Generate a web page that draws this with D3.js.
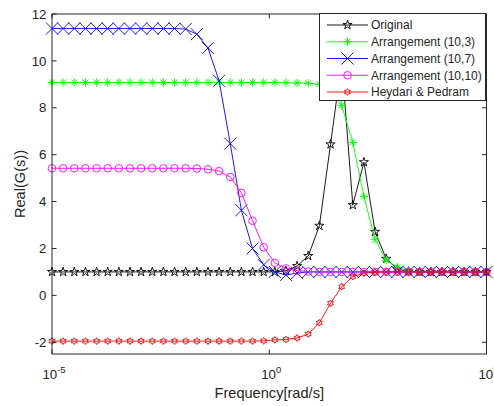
<!DOCTYPE html>
<html>
<head>
<meta charset="utf-8">
<script src="https://cdn.jsdelivr.net/npm/d3@7"></script>
<style>
  body { margin: 0; background: #fff; }
  svg text { font-family: Arial, "Liberation Sans", sans-serif; fill: #262626; }
</style>
</head>
<body>
<svg id="chart" width="494" height="406"></svg>
<script>
// log10 of the frequency samples (40 points from 1e-5 to 1e5)
const logFreq = [-5, -4.744, -4.487, -4.231, -3.974, -3.718, -3.462, -3.205, -2.949, -2.692,
  -2.436, -2.179, -1.923, -1.667, -1.410, -1.154, -0.897, -0.641, -0.385, -0.128,
  0.128, 0.385, 0.641, 0.897, 1.154, 1.410, 1.667, 1.923, 2.179, 2.436,
  2.692, 2.949, 3.205, 3.462, 3.718, 3.974, 4.231, 4.487, 4.744, 5];

const original = [1, 1, 1, 1, 1, 1, 1, 1, 1, 1,
  1, 1, 1, 1, 1, 1, 1, 1, 1, 1,
  1, 1.05, 1.25, 1.68, 2.97, 6.44, 9.96, 3.85, 5.68, 2.71,
  1.56, 1.12, 1.02, 1, 1, 1, 1, 1, 1, 1];

const arr10_3 = [9.08, 9.08, 9.08, 9.08, 9.08, 9.08, 9.08, 9.08, 9.08, 9.08,
  9.08, 9.08, 9.08, 9.08, 9.08, 9.08, 9.08, 9.08, 9.08, 9.08,
  9.08, 9.07, 9.06, 9.05, 9.0, 8.85, 8.1, 6.52, 4.22, 2.38,
  1.5, 1.2, 1.05, 1, 1, 1, 1, 1, 1, 1];

const arr10_7 = [11.38, 11.38, 11.38, 11.38, 11.38, 11.38, 11.38, 11.38, 11.38, 11.38,
  11.38, 11.38, 11.36, 11.14, 10.55, 9.15, 6.47, 3.63, 2.0, 1.3,
  1.0, 0.87, 0.95, 1, 1, 1, 1, 1, 1, 1,
  1, 1, 1, 1, 1, 1, 1, 1, 1, 1];

const arr10_10 = [5.42, 5.42, 5.42, 5.42, 5.42, 5.42, 5.42, 5.42, 5.42, 5.42,
  5.42, 5.42, 5.42, 5.41, 5.38, 5.3, 5.05, 4.37, 3.18, 2.05,
  1.39, 1.15, 1.05, 1.02, 1, 1, 1, 1, 1, 1,
  1, 1, 1, 1, 1, 1, 1, 1, 1, 1];

const heydari = [-1.95, -1.95, -1.95, -1.95, -1.95, -1.95, -1.95, -1.95, -1.95, -1.95,
  -1.95, -1.95, -1.95, -1.95, -1.95, -1.95, -1.95, -1.95, -1.95, -1.94,
  -1.9, -1.88, -1.82, -1.65, -1.17, -0.34, 0.37, 0.8, 0.95, 0.99,
  1, 1, 1, 1, 1, 1, 1, 1, 1, 1];

const seriesNames = ["Original", "Arrangement (10,3)", "Arrangement (10,7)", "Arrangement (10,10)", "Heydari & Pedram"];
const seriesValues = [original, arr10_3, arr10_7, arr10_10, heydari];
const seriesColors = ["#000000", "#00ff00", "#0000ff", "#ff00ff", "#ff0000"];
const seriesMarkers = ["pentagram", "asterisk", "x", "circle", "hexagram"];

const xTickExp = [-5, 0, 5];
const yTicks = [-2, 0, 2, 4, 6, 8, 10, 12];

// ---- layout ----
const svg = d3.select("#chart");
const axL = 52, axR = 486.5, axT = 14, axB = 354;
const axisColor = "#262626";

const x = d3.scaleLog().domain([1e-5, 1e5]).range([axL, axR]);
const y = d3.scaleLinear().domain([-2.5, 12]).range([axB, axT]);

function markerPath(kind){
    let p = [];
    if (kind == "pentagram"){
        let R = 4.8, r = R * 0.382;
        for (let i = 0; i < 10; i++){
            let a = -Math.PI/2 + i * Math.PI/5;
            let rr = i % 2 == 0 ? R : r;
            p.push([rr*Math.cos(a), rr*Math.sin(a)]);
        }
        return "M" + p.map(d => d[0].toFixed(2) + "," + d[1].toFixed(2)).join("L") + "Z";
    }
    if (kind == "hexagram"){
        let R = 3.4, r = R * 0.577;
        for (let i = 0; i < 12; i++){
            let a = -Math.PI/2 + i * Math.PI/6;
            let rr = i % 2 == 0 ? R : r;
            p.push([rr*Math.cos(a), rr*Math.sin(a)]);
        }
        return "M" + p.map(d => d[0].toFixed(2) + "," + d[1].toFixed(2)).join("L") + "Z";
    }
    if (kind == "asterisk"){
        let r = 4.2, a = r * 0.707;
        return `M${-r},0L${r},0M0,${-r}L0,${r}M${-a},${-a}L${a},${a}M${-a},${a}L${a},${-a}`;
    }
    if (kind == "x"){
        let s = 6;
        return `M${-s},${-s}L${s},${s}M${-s},${s}L${s},${-s}`;
    }
    // circle
    let c = 3.8;
    return `M${c},0A${c},${c} 0 1,1 ${-c},0A${c},${c} 0 1,1 ${c},0Z`;
}

// ---- series ----
let line = d3.line()
    .x((d, i) => x(Math.pow(10, logFreq[i])))
    .y(d => y(d));

seriesValues.forEach((vals, s) => {
    svg.append("path")
        .attr("d", line(vals))
        .attr("fill", "none")
        .attr("stroke", seriesColors[s])
        .attr("stroke-width", 0.9);

    svg.append("g").selectAll("path")
        .data(vals)
        .join("path")
        .attr("transform", (d, i) => `translate(${x(Math.pow(10, logFreq[i]))},${y(d)})`)
        .attr("d", markerPath(seriesMarkers[s]))
        .attr("fill", "none")
        .attr("stroke", seriesColors[s])
        .attr("stroke-width", 0.9);
});

// ---- ticks and box ----
let tickLen = 4.5;
let g = svg.append("g").attr("stroke", axisColor).attr("stroke-width", 1);
for (let t of yTicks){
    g.append("line").attr("x1", axL).attr("x2", axL + tickLen).attr("y1", y(t)).attr("y2", y(t));
    g.append("line").attr("x1", axR).attr("x2", axR - tickLen).attr("y1", y(t)).attr("y2", y(t));
}
for (let e of xTickExp){
    let xx = x(Math.pow(10, e));
    g.append("line").attr("x1", xx).attr("x2", xx).attr("y1", axB).attr("y2", axB - tickLen);
    g.append("line").attr("x1", xx).attr("x2", xx).attr("y1", axT).attr("y2", axT + tickLen);
}
g.append("rect")
    .attr("x", axL).attr("y", axT)
    .attr("width", axR - axL).attr("height", axB - axT)
    .attr("fill", "none");

// tick labels
svg.append("g").selectAll("text")
    .data(yTicks)
    .join("text")
    .attr("x", axL - 5.5)
    .attr("y", d => y(d) + 4.7)
    .attr("text-anchor", "end")
    .attr("font-size", 13.3)
    .text(d => d);

for (let e of xTickExp){
    let t = svg.append("text")
        .attr("x", x(Math.pow(10, e)) + 2)
        .attr("y", 378.5)
        .attr("text-anchor", "middle")
        .attr("font-size", 13.3);
    t.append("tspan").text("10");
    t.append("tspan").attr("dy", -6).attr("font-size", 9.5).text(e);
}

// axis labels
svg.append("text")
    .attr("x", (axL + axR) / 2)
    .attr("y", 398)
    .attr("text-anchor", "middle")
    .attr("font-size", 14.6)
    .text("Frequency[rad/s]");

svg.append("text")
    .attr("transform", `translate(24.5,${(axT + axB) / 2}) rotate(-90)`)
    .attr("text-anchor", "middle")
    .attr("font-size", 14.6)
    .text("Real(G(s))");

// ---- legend ----
let lg = svg.append("g");
lg.append("rect")
    .attr("x", 319.5).attr("y", 13.5)
    .attr("width", 166).attr("height", 87)
    .attr("fill", "#fff")
    .attr("stroke", axisColor)
    .attr("stroke-width", 1);

seriesNames.forEach((name, s) => {
    let cy = 25 + s * 16.75;
    lg.append("line")
        .attr("x1", 327).attr("x2", 368)
        .attr("y1", cy).attr("y2", cy)
        .attr("stroke", seriesColors[s])
        .attr("stroke-width", 0.9);
    lg.append("path")
        .attr("transform", `translate(347.5,${cy})`)
        .attr("d", markerPath(seriesMarkers[s]))
        .attr("fill", "none")
        .attr("stroke", seriesColors[s])
        .attr("stroke-width", 0.9);
    lg.append("text")
        .attr("x", 371)
        .attr("y", cy + 4.3)
        .attr("font-size", 12)
        .text(name);
});
</script>
</body>
</html>
